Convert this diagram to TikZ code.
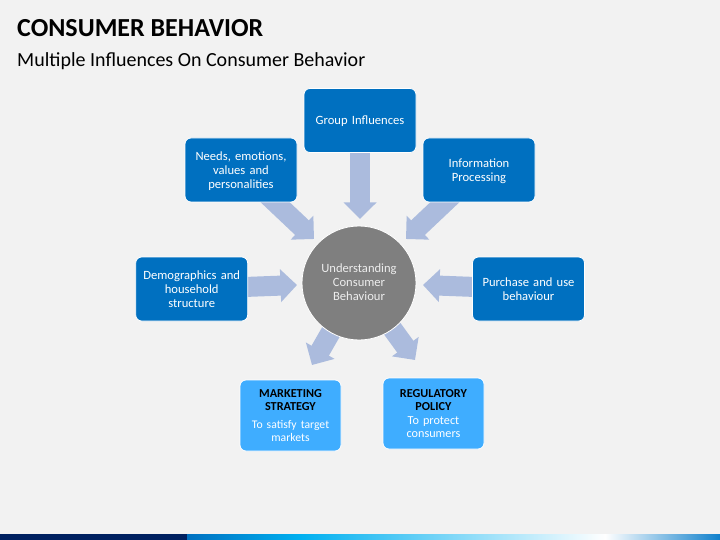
\documentclass[tikz,border=0pt]{standalone}
\usepackage{fontspec}
\setmainfont{Carlito}
\usetikzlibrary{arrows.meta,backgrounds}
\definecolor{pagebg}{HTML}{F2F2F2}
\definecolor{boxblue}{HTML}{0070C0}
\definecolor{boxlight}{HTML}{3FADFF}
\definecolor{flowcol}{HTML}{ABBBDD}
\definecolor{hubgray}{HTML}{7F7F7F}
\definecolor{navy}{HTML}{002060}
\definecolor{barcyan}{HTML}{00B0F0}
\definecolor{barend}{HTML}{0F80CC}
\newcommand{\marksmall}{\fontsize{11.7}{13.2}\selectfont}
\tikzset{
  x=1pt,y=-1pt,
  boxbase/.style={draw=white,line width=0.8pt,fill=boxblue,rounded corners=6pt,minimum width=112pt,minimum height=64pt,inner sep=1pt,text=white,align=center,font=\fontsize{12.6}{14}\selectfont,text width=106pt},
  bluebox/.style={boxbase,execute at end node={\par\vspace*{-2pt}}},
  midrow/.style={boxbase},
  lightbox/.style={draw=white,line width=0.8pt,fill=boxlight,rounded corners=6pt,minimum width=101pt,minimum height=71pt,inner sep=1pt,text=white,align=center,font=\fontsize{12.2}{13.2}\selectfont,text width=95pt},
  hub/.style={circle,draw=white,line width=0.8pt,fill=hubgray,minimum size=114pt,inner sep=0pt,text=white!93!black,align=center,font=\fontsize{12.6}{14}\selectfont,text width=80pt,execute at end node={\par\vspace*{2pt}}},
  flow/.style={draw=flowcol,line width=20pt,-{Triangle[length=16.5pt,width=32pt,fill=flowcol]}},
}
\begin{document}
\begin{tikzpicture}
\useasboundingbox (0,0) rectangle (720,540);
% nodes
\node[hub] (core) at (359,283) {Understanding\\Consumer\\Behaviour};
\node[bluebox] (group) at (360,120.5) {Group Influences};
\node[bluebox] (needs) at (241,170) {Needs, emotions,\\values and\\personalities};
\node[bluebox] (info) at (479,170) {Information\\Processing};
\node[midrow] (demo) at (191.7,289) {Demographics and\\household\\structure};
\node[midrow] (purchase) at (528.5,289) {Purchase and use\\behaviour};
\node[lightbox] (market) at (290.5,415.5) {\textcolor{black}{\textbf{MARKETING}}\\\textcolor{black}{\textbf{STRATEGY}}\\[4pt]{\marksmall To satisfy target}\\{\marksmall markets}};
\node[lightbox] (policy) at (433.5,413.5) {\textcolor{black}{\textbf{REGULATORY}}\\\textcolor{black}{\textbf{POLICY}}\\To protect\\consumers};
\node[anchor=base west,inner sep=0pt,font=\fontsize{26}{28}\selectfont\bfseries] (title) at (17,37) {CONSUMER BEHAVIOR};
\node[anchor=base west,inner sep=0pt,font=\fontsize{20}{24}\selectfont] (subtitle) at (17,66.5) {Multiple Influences On Consumer Behavior};
% arrow tips
\coordinate (tipgroup) at (360,219);
\coordinate (tipneeds) at (314,239);
\coordinate (tipinfo) at (406,239);
\coordinate (tipdemo) at (297,285);
\coordinate (tippurchase) at (423,285);
\coordinate (tipmarket) at (312,365);
\coordinate (tippolicy) at (415,360);
\begin{scope}[on background layer]
  \fill[pagebg] (0,0) rectangle (720,540);
  \draw[flow] (group.center) -- (tipgroup);
  \draw[flow] (needs.center) -- (tipneeds);
  \draw[flow] (info.center) -- (tipinfo);
  \draw[flow] (demo.center) -- (tipdemo);
  \draw[flow] (purchase.center) -- (tippurchase);
  \draw[flow] (core.center) -- (tipmarket);
  \draw[flow] (core.center) -- (tippolicy);
  % footer band
  \fill[navy] (0,534) rectangle (187,540);
  \shade[left color=boxblue,right color=barcyan] (187,534) rectangle (300,540);
  \shade[left color=barcyan,right color=white] (300,534) rectangle (605,540);
  \shade[left color=white,right color=barend] (605,534) rectangle (720,540);
\end{scope}
\end{tikzpicture}
\end{document}
